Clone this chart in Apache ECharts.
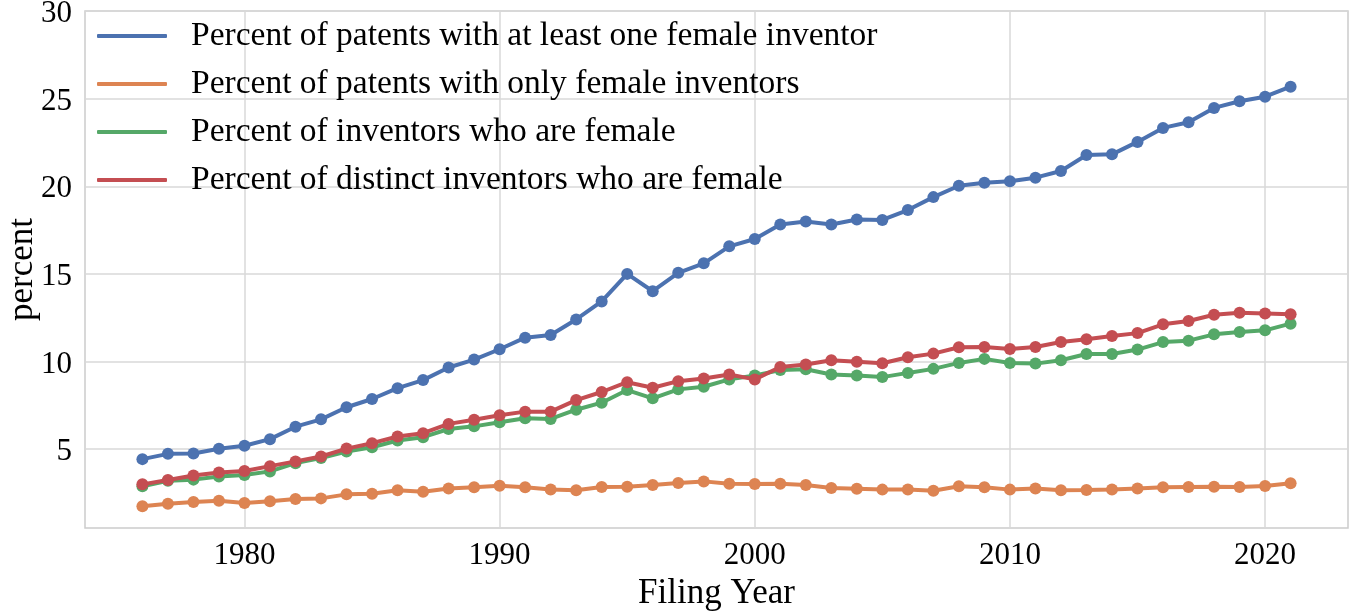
<!DOCTYPE html>
<html>
<head>
<meta charset="utf-8">
<script src="https://cdn.jsdelivr.net/npm/echarts@6/dist/echarts.min.js"></script>
<style>
html,body{margin:0;padding:0;background:#fff;}
#chart{width:1350px;height:614px;}
</style>
</head>
<body>
<div id="chart"></div>
<script>
const years = [1976,1977,1978,1979,1980,1981,1982,1983,1984,1985,1986,1987,1988,1989,1990,1991,1992,1993,1994,1995,1996,1997,1998,1999,2000,2001,2002,2003,2004,2005,2006,2007,2008,2009,2010,2011,2012,2013,2014,2015,2016,2017,2018,2019,2020,2021];

const atLeastOneFemale = [4.43,4.73,4.75,5.02,5.19,5.57,6.28,6.70,7.39,7.86,8.48,8.94,9.66,10.11,10.70,11.36,11.51,12.40,13.43,15.00,14.01,15.06,15.60,16.57,16.99,17.82,17.99,17.82,18.10,18.08,18.64,19.38,20.03,20.20,20.28,20.49,20.87,21.78,21.82,22.53,23.33,23.65,24.47,24.85,25.11,25.68];

const onlyFemale = [1.74,1.89,1.99,2.05,1.93,2.02,2.16,2.19,2.42,2.46,2.65,2.57,2.76,2.83,2.91,2.82,2.70,2.65,2.84,2.86,2.95,3.07,3.16,3.03,3.01,3.03,2.95,2.78,2.74,2.69,2.70,2.63,2.88,2.82,2.69,2.76,2.65,2.67,2.70,2.76,2.82,2.84,2.86,2.84,2.90,3.05];

const inventorsFemale = [2.88,3.20,3.26,3.44,3.52,3.73,4.20,4.49,4.86,5.11,5.49,5.68,6.15,6.30,6.53,6.76,6.72,7.25,7.65,8.37,7.90,8.41,8.56,8.98,9.20,9.51,9.56,9.26,9.20,9.11,9.35,9.58,9.92,10.15,9.92,9.88,10.07,10.43,10.43,10.68,11.11,11.19,11.55,11.68,11.78,12.16];

const distinctInventorsFemale = [2.99,3.24,3.50,3.67,3.75,4.03,4.30,4.58,5.03,5.34,5.72,5.91,6.44,6.68,6.93,7.14,7.14,7.80,8.26,8.82,8.50,8.88,9.03,9.26,8.98,9.69,9.83,10.07,9.98,9.90,10.24,10.45,10.81,10.83,10.72,10.83,11.11,11.27,11.45,11.62,12.12,12.31,12.67,12.78,12.74,12.70];

const seriesNames = [
  'Percent of patents with at least one female inventor',
  'Percent of patents with only female inventors',
  'Percent of inventors who are female',
  'Percent of distinct inventors who are female'
];
const seriesColors = ['#4C72B0','#DD8452','#55A868','#C44E52'];
const xTicks = [1980,1990,2000,2010,2020];
const yTicks = [5,10,15,20,25,30];

const font = '"Liberation Serif", "DejaVu Serif", serif';
const allData = [atLeastOneFemale, onlyFemale, inventorsFemale, distinctInventorsFemale];

const chart = echarts.init(document.getElementById('chart'), null, {renderer:'canvas'});
chart.setOption({
  animation: false,
  backgroundColor: '#ffffff',
  grid: {
    left: 85, right: 2, top: 11, bottom: 86,
    containLabel: false,
    outerBoundsMode: 'none',
    show: true, borderColor: '#cccccc', borderWidth: 1.5, backgroundColor: '#ffffff'
  },
  legend: {
    orient: 'vertical',
    left: 92, top: 12,
    itemWidth: 70, itemHeight: 4,
    itemGap: 10,
    icon: 'roundRect',
    data: seriesNames,
    textStyle: {fontFamily: font, fontSize: 33.5, color: '#000', lineHeight: 38, padding: [0,0,0,19]}
  },
  xAxis: {
    type: 'value',
    min: 1973.75, max: 2023.25,
    name: 'Filing Year', nameLocation: 'middle', nameGap: 48,
    nameMoveOverlap: false,
    nameTextStyle: {fontFamily: font, fontSize: 35, color: '#000'},
    axisLine: {show: false},
    axisTick: {show: false, customValues: xTicks},
    axisLabel: {customValues: xTicks, fontFamily: font, fontSize: 31, color: '#000', margin: 12,
      formatter: v => String(v)},
    splitLine: {show: true, lineStyle: {color: '#d9d9d9', width: 1.5}}
  },
  yAxis: {
    type: 'value',
    min: 0.5, max: 30,
    name: 'percent', nameLocation: 'middle', nameGap: 45,
    nameMoveOverlap: false,
    nameTextStyle: {fontFamily: font, fontSize: 35, color: '#000'},
    axisLine: {show: false},
    axisTick: {show: false, customValues: yTicks},
    axisLabel: {customValues: yTicks, color: '#000', margin: 13,
      formatter: v => '{t|' + v + '}',
      rich: {t: {fontFamily: font, fontSize: 31, color: '#000', padding: [6,0,0,0]}}},
    splitLine: {show: true, lineStyle: {color: '#d9d9d9', width: 1.5}}
  },
  series: seriesNames.map((name, i) => ({
    name: name,
    type: 'line',
    data: years.map((y, j) => [y, allData[i][j]]),
    symbol: 'circle',
    symbolSize: 12,
    showSymbol: true,
    lineStyle: {width: 4, color: seriesColors[i]},
    itemStyle: {color: seriesColors[i]},
    color: seriesColors[i],
    z: 2 + i
  }))
});
</script>
</body>
</html>
